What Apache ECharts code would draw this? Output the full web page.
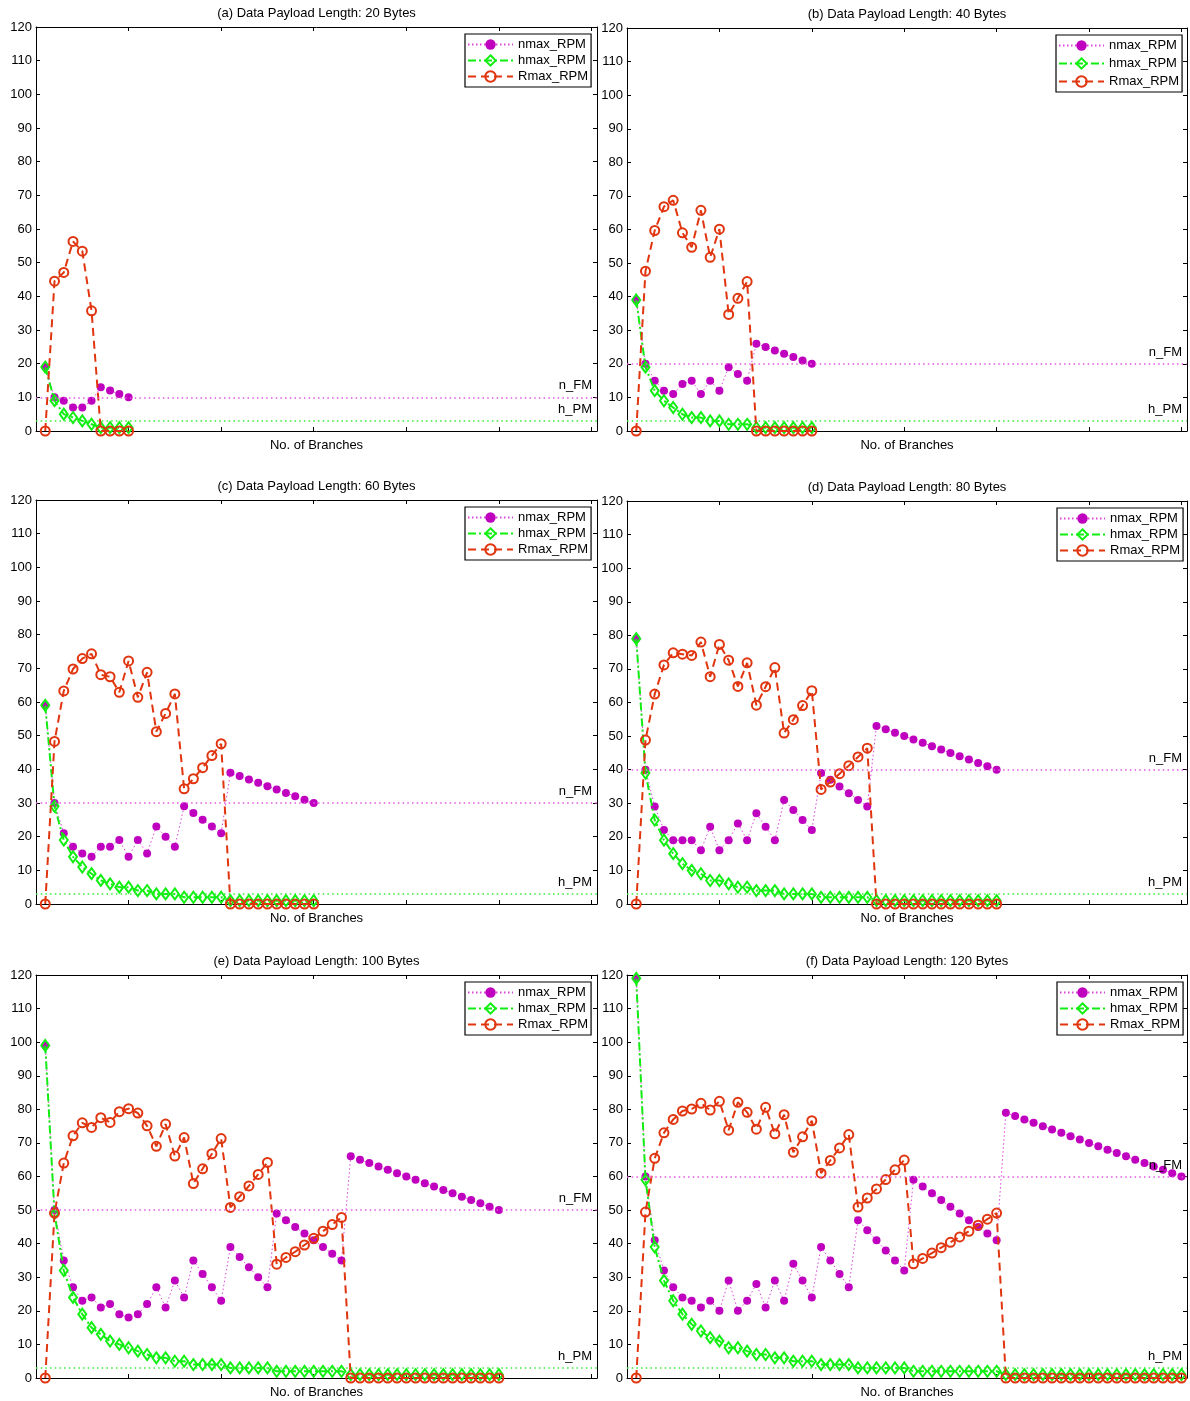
<!DOCTYPE html>
<html>
<head>
<meta charset="utf-8">
<script src="https://cdn.jsdelivr.net/npm/echarts@6/dist/echarts.min.js"></script>
<style>
  html, body { margin: 0; padding: 0; background: #fff; }
  #chart { width: 1190px; height: 1401px; }
</style>
</head>
<body>
<div id="chart"></div>
<script>
// Panel titles, one per payload length
const panelTitles = [
  '(a) Data Payload Length: 20 Bytes',
  '(b) Data Payload Length: 40 Bytes',
  '(c) Data Payload Length: 60 Bytes',
  '(d) Data Payload Length: 80 Bytes',
  '(e) Data Payload Length: 100 Bytes',
  '(f) Data Payload Length: 120 Bytes'
];

// Reference levels drawn as horizontal lines
const nFM = [10, 20, 30, 40, 50, 60];
const hPM = [3, 3, 3, 3, 3, 3];

// y-axis tick values
const yTicks = [0, 10, 20, 30, 40, 50, 60, 70, 80, 90, 100, 110, 120];

// Series values, indexed by number of branches (1, 2, 3, ...)
const nmax20 = [19, 10, 9, 7, 7, 9, 13, 12, 11, 10];
const hmax20 = [19, 9, 5, 4, 3, 2, 1, 1, 1, 1];
const rmax20 = [0, 44.5, 47.1, 56.3, 53.4, 35.7, 0, 0, 0, 0];

const nmax40 = [39, 20, 15, 12, 11, 14, 15, 11, 15, 12, 19, 17, 15, 26, 25, 24, 23, 22, 21, 20];
const hmax40 = [39, 19, 12, 9, 7, 5, 4, 4, 3, 3, 2, 2, 2, 1, 1, 1, 1, 1, 1, 1];
const rmax40 = [0, 47.6, 59.7, 66.8, 68.7, 59.0, 54.7, 65.7, 51.7, 60.1, 34.7, 39.5, 44.5, 0, 0, 0, 0, 0, 0, 0];

const nmax60 = [59, 30, 21, 17, 15, 14, 17, 17, 19, 14, 19, 15, 23, 20, 17, 29, 27, 25, 23, 21,
                39, 38, 37, 36, 35, 34, 33, 32, 31, 30];
const hmax60 = [59, 29, 19, 14, 11, 9, 7, 6, 5, 5, 4, 4, 3, 3, 3, 2, 2, 2, 2, 2,
                1, 1, 1, 1, 1, 1, 1, 1, 1, 1];
const rmax60 = [0, 48.3, 63.3, 69.8, 72.9, 74.3, 68.1, 67.5, 62.9, 72.2, 61.4, 68.8, 51.2, 56.6, 62.4,
                34.2, 37.2, 40.5, 44.1, 47.6, 0, 0, 0, 0, 0, 0, 0, 0, 0, 0];

const nmax80 = [79, 40, 29, 22, 19, 19, 19, 16, 23, 16, 19, 24, 19, 27, 23, 19, 31, 28, 25, 22,
                39, 37, 35, 33, 31, 29, 53, 52, 51, 50, 49, 48, 47, 46, 45, 44, 43, 42, 41, 40];
const hmax80 = [79, 39, 25, 19, 15, 12, 10, 9, 7, 7, 6, 5, 5, 4, 4, 4, 3, 3, 3, 3,
                2, 2, 2, 2, 2, 2, 1, 1, 1, 1, 1, 1, 1, 1, 1, 1, 1, 1, 1, 1];
const rmax80 = [0, 48.8, 62.5, 71.2, 74.8, 74.4, 74.0, 78.0, 67.7, 77.3, 72.6, 64.8, 71.8, 59.2, 64.7,
                70.4, 50.9, 54.9, 59.1, 63.5, 34.1, 36.3, 38.8, 41.2, 43.8, 46.4,
                0, 0, 0, 0, 0, 0, 0, 0, 0, 0, 0, 0, 0, 0];

const nmax100 = [99, 50, 35, 27, 23, 24, 21, 22, 19, 18, 19, 22, 27, 21, 29, 24, 35, 31, 27, 23,
                 39, 36, 33, 30, 27, 49, 47, 45, 43, 41, 39, 37, 35,
                 66, 65, 64, 63, 62, 61, 60, 59, 58, 57, 56, 55, 54, 53, 52, 51, 50];
const hmax100 = [99, 49, 32, 24, 19, 15, 13, 11, 10, 9, 8, 7, 6, 6, 5, 5, 4, 4, 4, 4,
                 3, 3, 3, 3, 3, 2, 2, 2, 2, 2, 2, 2, 2,
                 1, 1, 1, 1, 1, 1, 1, 1, 1, 1, 1, 1, 1, 1, 1, 1, 1];
const rmax100 = [0, 49.1, 64.0, 72.1, 76.0, 74.6, 77.5, 76.1, 79.3, 80.2, 78.9, 75.1, 69.0, 75.6, 66.1,
                 71.6, 57.9, 62.3, 66.8, 71.3, 50.8, 54.0, 57.2, 60.6, 64.2,
                 33.9, 35.9, 37.6, 39.6, 41.6, 43.7, 45.7, 47.8,
                 0, 0, 0, 0, 0, 0, 0, 0, 0, 0, 0, 0, 0, 0, 0, 0, 0];

const nmax120 = [119, 60, 41, 32, 27, 24, 23, 21, 23, 20, 29, 20, 23, 28, 21, 29, 23, 34, 29, 24,
                 39, 35, 31, 27, 47, 44, 41, 38, 35, 32, 59, 57, 55, 53, 51, 49, 47, 45, 43, 41,
                 79, 78, 77, 76, 75, 74, 73, 72, 71, 70, 69, 68, 67, 66, 65, 64, 63, 62, 61, 60];
const hmax120 = [119, 59, 39, 29, 23, 19, 16, 14, 12, 11, 9, 9, 8, 7, 7, 6, 6, 5, 5, 5,
                 4, 4, 4, 4, 3, 3, 3, 3, 3, 3, 2, 2, 2, 2, 2, 2, 2, 2, 2, 2,
                 1, 1, 1, 1, 1, 1, 1, 1, 1, 1, 1, 1, 1, 1, 1, 1, 1, 1, 1, 1];
const rmax120 = [0, 49.4, 65.4, 73.0, 77.0, 79.5, 80.1, 81.8, 79.8, 82.4, 73.8, 82.1, 79.1, 74.1, 80.6,
                 72.7, 78.4, 67.2, 71.8, 76.6, 61.0, 64.8, 68.5, 72.5, 50.9, 53.6, 56.3, 59.1, 62.0, 64.9,
                 34.0, 35.6, 37.2, 38.8, 40.4, 42.0, 43.7, 45.5, 47.3, 49.1,
                 0, 0, 0, 0, 0, 0, 0, 0, 0, 0, 0, 0, 0, 0, 0, 0, 0, 0, 0, 0];

const nmaxSets = [nmax20, nmax40, nmax60, nmax80, nmax100, nmax120];
const hmaxSets = [hmax20, hmax40, hmax60, hmax80, hmax100, hmax120];
const rmaxSets = [rmax20, rmax40, rmax60, rmax80, rmax100, rmax120];

// ---- layout & style ----
const FONT = "'Liberation Sans', Arial, Helvetica, sans-serif";
const MAG = '#bf00bf';
const MAG_LINE = '#dd44dd';
const GRN = '#11ee11';
const RED = '#e0350f';

const grids = [
  { left: 36,  top: 27,  width: 561, height: 404 },
  { left: 627, top: 28,  width: 560, height: 403 },
  { left: 36,  top: 500, width: 561, height: 404 },
  { left: 627, top: 501, width: 560, height: 403 },
  { left: 36,  top: 975, width: 561, height: 403 },
  { left: 627, top: 975, width: 560, height: 403 }
];
const legendPos = [
  { left: 465,  top: 34,  gap: 2 },
  { left: 1056, top: 35,  gap: 4 },
  { left: 465,  top: 507, gap: 2 },
  { left: 1057, top: 508, gap: 2 },
  { left: 465,  top: 982, gap: 2 },
  { left: 1057, top: 982, gap: 2 }
];

const X_MAX = 60.6;
const tickInside = { show: true, inside: true, length: 4, lineStyle: { color: '#000', width: 1 } };
// box edges stay on their own side, never snapped to the zero of the other axis
const axisLineBlack = { show: true, onZero: false, lineStyle: { color: '#000', width: 1 } };

const refLabel = { show: true, position: 'insideEndTop', formatter: '{b}', fontFamily: FONT, fontSize: 13, color: '#000', distance: 5 };

const xAxes = [], yAxes = [], series = [], legends = [];

grids.forEach((g, i) => {
  // bottom x axis with its name
  xAxes.push({
    gridIndex: i, type: 'value', position: 'bottom', min: 0, max: X_MAX, interval: 10,
    axisLine: axisLineBlack, axisTick: tickInside, axisLabel: { show: false }, splitLine: { show: false },
    name: 'No. of Branches', nameLocation: 'middle', nameGap: 8,
    nameTextStyle: { fontFamily: FONT, fontSize: 13, color: '#000' }
  });
  // top x axis: box edge, ticks and panel title
  xAxes.push({
    gridIndex: i, type: 'value', position: 'top', min: 0, max: X_MAX, interval: 10,
    axisLine: axisLineBlack, axisTick: tickInside, axisLabel: { show: false }, splitLine: { show: false },
    name: panelTitles[i], nameLocation: 'middle', nameGap: 7,
    nameTextStyle: { fontFamily: FONT, fontSize: 13, color: '#000' }
  });
  yAxes.push({
    gridIndex: i, type: 'value', position: 'left', min: yTicks[0], max: yTicks[yTicks.length - 1],
    interval: yTicks[1] - yTicks[0],
    axisLine: axisLineBlack, axisTick: tickInside, splitLine: { show: false },
    axisLabel: { fontFamily: FONT, fontSize: 13, color: '#000', margin: 4 }
  });
  yAxes.push({
    gridIndex: i, type: 'value', position: 'right', min: yTicks[0], max: yTicks[yTicks.length - 1],
    interval: yTicks[1] - yTicks[0],
    axisLine: axisLineBlack, axisTick: tickInside, splitLine: { show: false },
    axisLabel: { show: false }
  });

  const toPoints = arr => arr.map((v, k) => [k + 1, v]);

  series.push({
    name: 'nmax_RPM', type: 'line', xAxisIndex: 2 * i, yAxisIndex: 2 * i, z: 2,
    data: toPoints(nmaxSets[i]),
    symbol: 'circle', symbolSize: 8,
    itemStyle: { color: MAG },
    lineStyle: { color: MAG_LINE, width: 1, type: [1.5, 2.5] }
  });
  series.push({
    name: 'hmax_RPM', type: 'line', xAxisIndex: 2 * i, yAxisIndex: 2 * i, z: 3,
    data: toPoints(hmaxSets[i]),
    symbol: 'diamond', symbolSize: [8, 11],
    itemStyle: { color: 'rgba(255,255,255,0)', borderColor: GRN, borderWidth: 2 },
    lineStyle: { color: GRN, width: 2, type: [8, 3, 2, 3] }
  });
  series.push({
    name: 'Rmax_RPM', type: 'line', xAxisIndex: 2 * i, yAxisIndex: 2 * i, z: 4,
    data: toPoints(rmaxSets[i]),
    symbol: 'circle', symbolSize: 9,
    itemStyle: { color: 'rgba(255,255,255,0)', borderColor: RED, borderWidth: 2 },
    lineStyle: { color: RED, width: 2, type: [8, 5] },
    // n_FM / h_PM reference levels, drawn last so their labels sit on top
    markLine: {
      silent: true, symbol: ['none', 'none'], animation: false,
      data: [
        { name: 'n_FM', yAxis: nFM[i], lineStyle: { color: '#e455e4', width: 1.5, type: [1.5, 3.2] }, label: refLabel },
        { name: 'h_PM', yAxis: hPM[i], lineStyle: { color: '#33ee33', width: 1.5, type: [1.5, 3.2] }, label: refLabel }
      ]
    }
  });

  const lp = legendPos[i];
  legends.push({
    data: ['nmax_RPM', 'hmax_RPM', 'Rmax_RPM'],
    orient: 'vertical', left: lp.left, top: lp.top,
    itemWidth: 45, itemHeight: 13, itemGap: lp.gap + 1,
    padding: [4, 3, 4, 2],
    backgroundColor: '#fff', borderColor: '#000', borderWidth: 1.2,
    selectedMode: false,
    textStyle: { fontFamily: FONT, fontSize: 13, color: '#000' }
  });
});

const chart = echarts.init(document.getElementById('chart'), null, { renderer: 'canvas' });
chart.setOption({
  animation: false,
  backgroundColor: '#fff',
  textStyle: { fontFamily: FONT },
  grid: grids.map(g => Object.assign({ containLabel: false, show: false }, g)),
  xAxis: xAxes,
  yAxis: yAxes,
  legend: legends,
  series: series
});
</script>
</body>
</html>
